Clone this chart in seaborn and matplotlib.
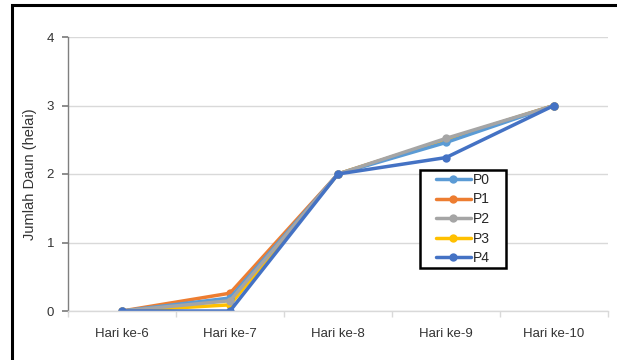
import matplotlib
matplotlib.use("Agg")
import matplotlib.pyplot as plt
import seaborn as sns
import pandas as pd
from matplotlib.patches import Rectangle

# Days of observation
days = ["Hari ke-6", "Hari ke-7", "Hari ke-8", "Hari ke-9", "Hari ke-10"]

# Mean leaf count per treatment
p0 = [0, 0.19, 2, 2.46, 3]
p1 = [0, 0.26, 2, 2.50, 3]
p2 = [0, 0.15, 2, 2.52, 3]
p3 = [0, 0.09, 2, 2.50, 3]
p4 = [0, 0.00, 2, 2.24, 3]

series = {"P0": p0, "P1": p1, "P2": p2, "P3": p3, "P4": p4}
colors = {"P0": "#5B9BD5", "P1": "#ED7D31", "P2": "#A5A5A5",
          "P3": "#FFC000", "P4": "#4472C4"}
# stacking order of the lines (higher is drawn on top)
layer = {"P0": 2.0, "P1": 1.9, "P2": 2.4, "P3": 1.95, "P4": 2.5}

rows = []
for name, vals in series.items():
    for i, (d, v) in enumerate(zip(days, vals)):
        rows.append({"idx": i, "Hari": d, "Perlakuan": name, "Jumlah": v})
df = pd.DataFrame(rows)

sns.set_theme(style="white")
plt.rcParams["font.family"] = ["Liberation Sans", "DejaVu Sans"]

fig = plt.figure(figsize=(6.17, 3.6), dpi=100)
ax = fig.add_axes([68 / 617, 1 - 311 / 360, 540 / 617, 274 / 360])

sns.lineplot(data=df, x="idx", y="Jumlah", hue="Perlakuan", palette=colors,
             marker="o", markersize=6, markeredgewidth=0, linewidth=2.5,
             ax=ax, legend=True, sort=False)

for line, name in zip(ax.lines, series.keys()):
    line.set_zorder(layer[name])

ax.set_xlim(-0.5, len(days) - 0.5)
ax.set_ylim(0, 4)
ax.set_yticks([0, 1, 2, 3, 4])
ax.set_xticks(range(len(days)))
ax.set_xticklabels(days)
ax.set_xticks([i - 0.5 for i in range(len(days) + 1)], minor=True)
ax.set_xlabel("")
ax.set_ylabel("Jumlah Daun (helai)", fontsize=10.5, color="#333333", labelpad=7)

ax.yaxis.grid(True, color="#D9D9D9", linewidth=1)
ax.set_axisbelow(True)
for s in ["top", "right"]:
    ax.spines[s].set_visible(False)
ax.spines["left"].set_color("#7F7F7F")
ax.spines["left"].set_linewidth(1)
ax.spines["bottom"].set_color("#D9D9D9")
ax.spines["bottom"].set_linewidth(1)

ax.tick_params(axis="y", which="major", left=True, length=4, color="#7F7F7F",
               labelsize=9.5, labelcolor="#333333", pad=6)
ax.tick_params(axis="x", which="major", bottom=False, labelsize=9.5,
               labelcolor="#333333", pad=6)
ax.tick_params(axis="x", which="minor", bottom=True, length=4, color="#D9D9D9")

handles, labels = ax.get_legend_handles_labels()
leg = ax.legend(handles, labels, loc="center",
                bbox_to_anchor=(463 / 617, 1 - 219 / 360),
                bbox_transform=fig.transFigure, frameon=False,
                fontsize=10, handlelength=2.5, labelspacing=0.4,
                handletextpad=0.15, borderpad=0.2)
leg.set_zorder(6)

# Legend box, drawn inside the axes just beneath the legend entries
ax.add_patch(Rectangle((420 / 617, 1 - 268 / 360), 86 / 617, 98 / 360,
                       transform=fig.transFigure, facecolor="white",
                       edgecolor="black", linewidth=1.8, zorder=5,
                       clip_on=False))

# Outer frame around the chart area
fig.patches.append(Rectangle((11.5 / 617, -0.05), 1.1, 1 - 5.5 / 360 + 0.05,
                             transform=fig.transFigure, fill=False,
                             edgecolor="black", linewidth=2.2, clip_on=False))

fig.savefig("out.png", dpi=100)
